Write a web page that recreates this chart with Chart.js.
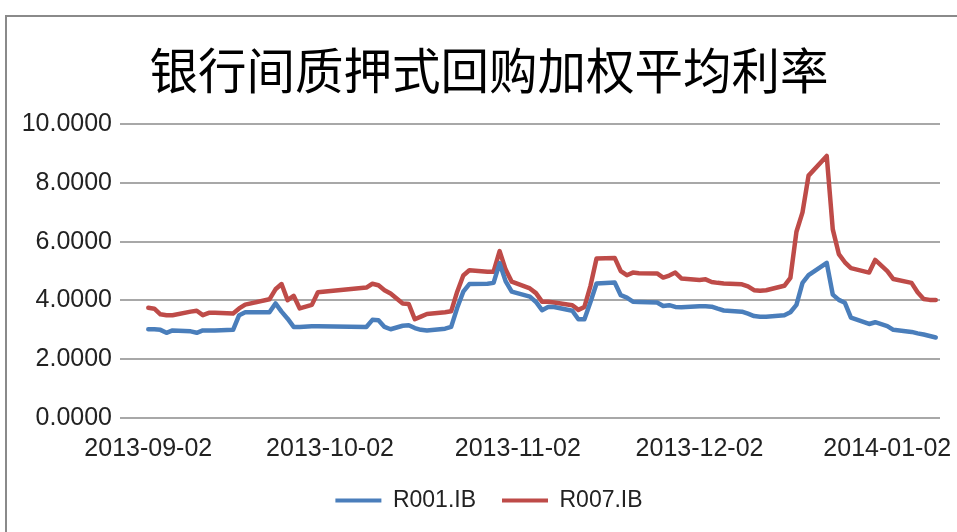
<!DOCTYPE html>
<html><head><meta charset="utf-8">
<script src="https://cdn.jsdelivr.net/npm/chart.js@4/dist/chart.umd.min.js"></script>
<style>
html,body{margin:0;padding:0;background:#fff;}
#wrap{position:relative;width:957px;height:532px;overflow:hidden;background:#fff;}
#frame{position:absolute;left:5px;top:15px;width:1000px;height:600px;border-left:2px solid #8a8a8a;border-top:2px solid #8a8a8a;}
canvas{position:absolute;left:0;top:0;}
</style></head><body>
<div id="wrap"><div id="frame"></div><canvas id="c" width="957" height="532"></canvas></div>
<script>
const chartTitle = '银行间质押式回购加权平均利率';
const seriesNames = ['R001.IB', 'R007.IB'];
const dates = [
'2013-09-02','2013-09-03','2013-09-04','2013-09-05','2013-09-06',
'2013-09-09','2013-09-10','2013-09-11','2013-09-12','2013-09-13',
'2013-09-16','2013-09-17','2013-09-18',
'2013-09-22','2013-09-23','2013-09-24','2013-09-25','2013-09-26','2013-09-27',
'2013-09-29','2013-09-30',
'2013-10-08','2013-10-09','2013-10-10','2013-10-11','2013-10-12',
'2013-10-14','2013-10-15','2013-10-16','2013-10-17','2013-10-18',
'2013-10-21','2013-10-22','2013-10-23','2013-10-24','2013-10-25',
'2013-10-28','2013-10-29','2013-10-30','2013-10-31','2013-11-01',
'2013-11-04','2013-11-05','2013-11-06','2013-11-07','2013-11-08',
'2013-11-11','2013-11-12','2013-11-13','2013-11-14','2013-11-15',
'2013-11-18','2013-11-19','2013-11-20','2013-11-21','2013-11-22',
'2013-11-25','2013-11-26','2013-11-27','2013-11-28','2013-11-29',
'2013-12-02','2013-12-03','2013-12-04','2013-12-05','2013-12-06',
'2013-12-09','2013-12-10','2013-12-11','2013-12-12','2013-12-13',
'2013-12-16','2013-12-17','2013-12-18','2013-12-19','2013-12-20',
'2013-12-23','2013-12-24','2013-12-25','2013-12-26','2013-12-27',
'2013-12-30','2013-12-31',
'2014-01-02','2014-01-03',
'2014-01-06','2014-01-07','2014-01-08','2014-01-09','2014-01-10'
];
const r001 = [
3.02,3.02,3.00,2.90,2.98, 2.95,2.90,2.98,2.98,2.98, 3.00,3.50,3.60, 3.60,3.90,3.62,3.38,3.10,3.10, 3.12,3.12,
3.10,3.34,3.33,3.10,3.02, 3.14,3.16,3.06,3.00,2.98, 3.04,3.10,3.75,4.30,4.56, 4.57,4.60,5.27,4.65,4.30,
4.13,3.95,3.67,3.78,3.78, 3.65,3.36,3.36,3.95,4.58, 4.61,4.18,4.10,3.96,3.95, 3.93,3.81,3.84,3.78,3.77,
3.80,3.80,3.79,3.72,3.66, 3.62,3.55,3.47,3.45,3.45, 3.50,3.60,3.85,4.60,4.86, 5.28,4.20,4.02,3.92,3.42,
3.20,3.26, 3.13,3.00, 2.93,2.88,2.84,2.79,2.74
];
const r007 = [
3.75,3.72,3.53,3.50,3.50, 3.62,3.65,3.50,3.58,3.58, 3.56,3.73,3.86, 4.04,4.38,4.56,4.01,4.16,3.73, 3.85,4.28,
4.44,4.57,4.52,4.35,4.24, 3.90,3.88,3.36,3.45,3.54, 3.60,3.63,4.30,4.85,5.03, 4.98,4.98,5.68,5.05,4.64,
4.41,4.25,3.96,3.96,3.93, 3.84,3.68,3.78,4.50,5.43, 5.45,5.00,4.86,4.95,4.93, 4.92,4.78,4.85,4.95,4.75,
4.70,4.72,4.63,4.60,4.58, 4.55,4.48,4.35,4.33,4.35, 4.50,4.77,6.34,7.00,8.25, 8.92,6.42,5.58,5.30,5.10,
4.95,5.38, 5.00,4.73, 4.60,4.28,4.05,4.02,4.02
];
const xTickLabels = ['2013-09-02','2013-10-02','2013-11-02','2013-12-02','2014-01-02'];
const yTicks = [0, 2, 4, 6, 8, 10];

const baseMs = Date.parse(dates[0] + 'T00:00:00Z');
const dayOf = s => (Date.parse(s + 'T00:00:00Z') - baseMs) / 86400000;
const toPoints = vals => vals.map((v, i) => ({x: dayOf(dates[i]), y: v}));

const colors = ['#4a7ebb', '#be4b48'];
const tickFont = {family: '"Liberation Sans", Arial, sans-serif', size: 25};

// shift the title and legend boxes so they are centred like the reference
const shiftBoxes = {
  id: 'shiftBoxes',
  afterLayout(chart) {
    if (chart.titleBlock) chart.titleBlock.left = 38;
    if (chart.legend) chart.legend.left = 38;
  }
};

new Chart(document.getElementById('c'), {
  type: 'line',
  data: {
    datasets: [
      {label: seriesNames[0], data: toPoints(r001), borderColor: colors[0], backgroundColor: colors[0]},
      {label: seriesNames[1], data: toPoints(r007), borderColor: colors[1], backgroundColor: colors[1]}
    ]
  },
  plugins: [shiftBoxes],
  options: {
    responsive: false,
    devicePixelRatio: 1,
    animation: false,
    layout: {padding: {left: 0, right: 17, top: 0, bottom: 10}},
    elements: {
      point: {radius: 0},
      line: {borderWidth: 4.5, tension: 0, borderJoinStyle: 'round', borderCapStyle: 'round'}
    },
    plugins: {
      tooltip: {enabled: false},
      title: {
        display: true, text: chartTitle, color: '#000',
        font: {family: '"Noto Sans CJK SC", sans-serif', size: 48.5, weight: 'normal', lineHeight: 1.2},
        padding: {top: 41, bottom: 25}
      },
      legend: {
        position: 'bottom',
        labels: {
          boxWidth: 46, boxHeight: 4, padding: 26, color: '#222',
          font: {family: '"Liberation Sans", Arial, sans-serif', size: 23},
          generateLabels: chart => chart.data.datasets.map((d, i) => ({
            text: d.label, fillStyle: d.borderColor, strokeStyle: d.borderColor,
            lineWidth: 0, datasetIndex: i, fontColor: '#222'
          }))
        }
      }
    },
    scales: {
      x: {
        type: 'linear', min: -4.67, max: 130.7,
        afterBuildTicks: s => { s.ticks = xTickLabels.map(l => ({value: dayOf(l)})); },
        afterFit: s => { s.height = 45; s.paddingLeft = 0; s.paddingRight = 0; },
        grid: {display: false, drawTicks: false},
        border: {display: false},
        ticks: {
          autoSkip: false, maxRotation: 0, padding: 16, color: '#222', font: tickFont,
          callback: (v, i) => xTickLabels[i]
        }
      },
      y: {
        min: 0, max: 10,
        afterBuildTicks: s => { s.ticks = yTicks.map(v => ({value: v})); },
        afterFit: s => { s.width = 120; },
        grid: {color: '#a8a8a8', lineWidth: 2, drawTicks: false},
        border: {display: false},
        ticks: {padding: 8, color: '#222', font: tickFont, callback: v => Number(v).toFixed(4)}
      }
    }
  }
});
</script>
</body></html>
